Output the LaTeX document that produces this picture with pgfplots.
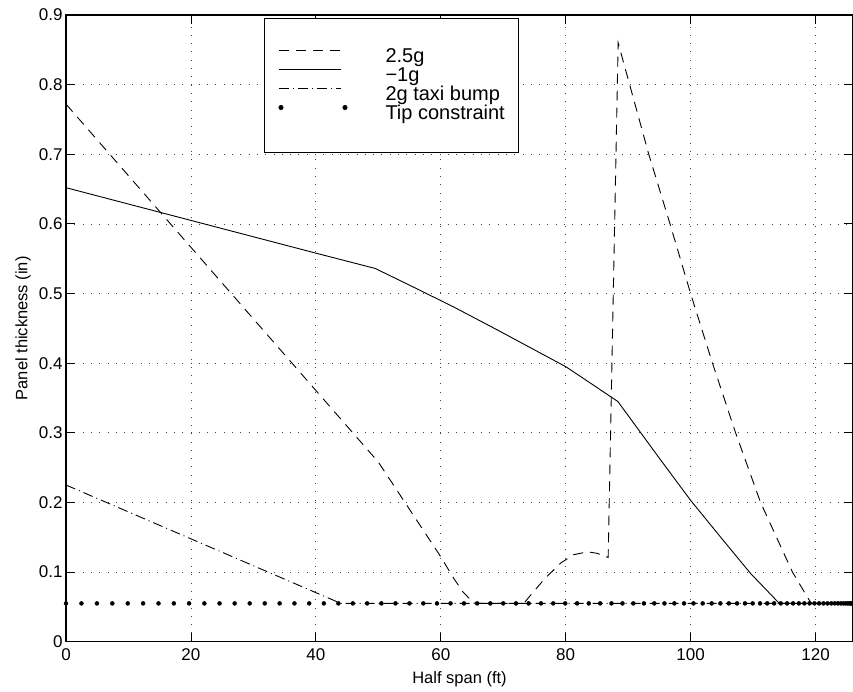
\documentclass[border=0pt]{standalone}
\usepackage{fontspec}
\setmainfont{Liberation Sans}
\usepackage{pgfplots}
\pgfplotsset{compat=1.18}

\pgfplotsset{
  longline/.style={legend image code/.code={\draw[##1] (0pt,6.5pt) -- (62pt,6.5pt);}},
  twodots/.style={legend image code/.code={\fill (2pt,6.5pt) circle (2pt); \fill (66pt,6.5pt) circle (2pt);}},
}

% panel thickness along the half span
\pgfplotstableread{
x y
0 0.772
50 0.258
55 0.190
60 0.122
62 0.092
63.5 0.072
65 0.058
66 0.055
73.3 0.055
74.4 0.067
76.5 0.089
79.2 0.113
81.3 0.125
83.5 0.129
85 0.127
86.8 0.121
88.4 0.860
93.3 0.700
96.7 0.600
100 0.500
103.5 0.400
107.2 0.300
111.2 0.200
116.3 0.100
119.3 0.055
126 0.055
}\gpos

\pgfplotstableread{
x y
0 0.652
20 0.605
40 0.558
49.5 0.536
55 0.512
62 0.481
69 0.448
80 0.395
88.35 0.345
95.2 0.261
100 0.203
105 0.148
109.6 0.098
114.2 0.055
126 0.055
}\gneg

\pgfplotstableread{
x y
0 0.225
44 0.055
126 0.055
}\taxi

\pgfplotstableread{
x y
0 0.055
2.474 0.055
4.947 0.055
7.418 0.055
9.886 0.055
12.350 0.055
14.810 0.055
17.264 0.055
19.711 0.055
22.150 0.055
24.581 0.055
27.003 0.055
29.414 0.055
31.814 0.055
34.201 0.055
36.576 0.055
38.936 0.055
41.281 0.055
43.611 0.055
45.923 0.055
48.218 0.055
50.494 0.055
52.751 0.055
54.988 0.055
57.203 0.055
59.396 0.055
61.566 0.055
63.713 0.055
65.835 0.055
67.931 0.055
70.002 0.055
72.045 0.055
74.061 0.055
76.048 0.055
78.006 0.055
79.934 0.055
81.830 0.055
83.696 0.055
85.529 0.055
87.329 0.055
89.095 0.055
90.828 0.055
92.525 0.055
94.186 0.055
95.811 0.055
97.399 0.055
98.950 0.055
100.462 0.055
101.936 0.055
103.371 0.055
104.765 0.055
106.119 0.055
107.433 0.055
108.704 0.055
109.934 0.055
111.122 0.055
112.267 0.055
113.368 0.055
114.426 0.055
115.440 0.055
116.409 0.055
117.333 0.055
118.212 0.055
119.046 0.055
119.833 0.055
120.574 0.055
121.269 0.055
121.917 0.055
122.519 0.055
123.072 0.055
123.579 0.055
124.038 0.055
124.449 0.055
124.812 0.055
125.127 0.055
125.393 0.055
125.612 0.055
125.781 0.055
125.903 0.055
125.976 0.055
126 0.055
}\tip

\begin{document}
\begin{tikzpicture}
\begin{axis}[
  name=ax,
  scale only axis,
  width=787pt, height=626.7pt,
  xmin=0, xmax=126, ymin=0, ymax=0.9,
  xtick={0,20,40,60,80,100,120},
  ytick={0,0.1,0.2,0.3,0.4,0.5,0.6,0.7,0.8,0.9},
  /pgf/number format/assume math mode=true,
  yticklabel style={/pgf/number format/fixed},
  tick label style={font=\fontsize{17}{20}\selectfont},
  xticklabel style={yshift=-3pt},
  major tick length=9pt,
  tick style={black, line width=0.8pt},
  axis line style={line width=1.2pt},
  grid=major,
  major grid style={black!75, line width=0.7pt, dash pattern=on 0.9pt off 7.4pt},
  xlabel={Half span (ft)},
  ylabel={Panel thickness (in)},
  label style={font=\fontsize{16.5}{19}\selectfont, inner sep=0pt},
  xlabel style={at={(axis description cs:0.5,-0.0479)}, anchor=north},
  ylabel style={at={(axis description cs:-0.0445,0.5)}, anchor=south},
  legend cell align=left,
  legend style={at={(0.2516,0.9952)}, anchor=north west, draw=black,
    line width=1pt, inner xsep=14pt, inner ysep=29pt, column sep=38pt,
    row sep=0pt,
    font=\fontsize{20}{23}\selectfont,
    nodes={inner sep=0pt, text height=14.5pt, text depth=4.5pt}},
]
\addplot[black, line width=0.9pt, dash pattern=on 10pt off 7pt, longline] table {\gpos};
\addlegendentry{2.5g}
\addplot[black, line width=0.9pt, longline] table {\gneg};
\addlegendentry{−1g}
\addplot[black, line width=0.9pt, dash pattern=on 10pt off 4pt on 1pt off 4pt, longline] table {\taxi};
\addlegendentry{2g taxi bump}
\addplot[black, only marks, mark=*, mark size=2pt, twodots] table {\tip};
\addlegendentry{Tip constraint}
\end{axis}
\pgfresetboundingbox
\useasboundingbox ([shift={(-66pt,-50.3pt)}]ax.south west) rectangle ([shift={(0pt,15pt)}]ax.north east);
\end{tikzpicture}
\end{document}
